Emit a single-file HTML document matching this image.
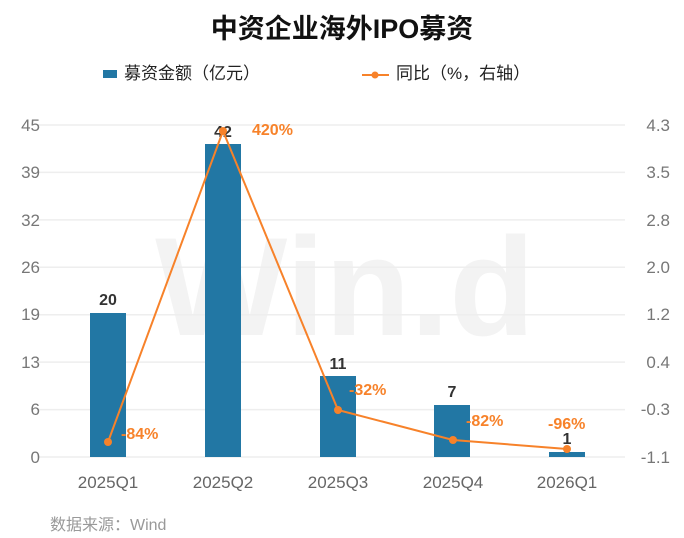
<!DOCTYPE html><html><head><style>body{margin:0;background:#fff}svg{display:block}text{font-family:"Liberation Sans","Noto Sans CJK SC",sans-serif}</style></head><body>
<svg width="684" height="538" xmlns="http://www.w3.org/2000/svg">
<text x="342" y="38" text-anchor="middle" font-size="27" font-weight="bold" fill="#111">中资企业海外IPO募资</text>
<rect x="103" y="70" width="14" height="8" fill="#2277a4"/>
<text x="124" y="79" font-size="17" fill="#222">募资金额（亿元）</text>
<line x1="362" y1="75" x2="389" y2="75" stroke="#f7822a" stroke-width="2"/><circle cx="375" cy="75" r="3.5" fill="#f7822a"/>
<text x="396" y="79" font-size="17" fill="#222">同比（%，右轴）</text>
<text x="345" y="335" text-anchor="middle" font-size="140" font-weight="bold" fill="#f3f3f3">Win.d</text>
<g stroke="#eeeeee" stroke-width="1.5">
<line x1="38" x2="625" y1="125" y2="125"/><line x1="38" x2="625" y1="172.4" y2="172.4"/><line x1="38" x2="625" y1="219.9" y2="219.9"/><line x1="38" x2="625" y1="267.3" y2="267.3"/><line x1="38" x2="625" y1="314.7" y2="314.7"/><line x1="38" x2="625" y1="362.1" y2="362.1"/><line x1="38" x2="625" y1="409.6" y2="409.6"/><line x1="38" x2="625" y1="457" y2="457"/></g>
<g font-size="17" fill="#777" text-anchor="end">
<text x="40" y="131">45</text><text x="40" y="178">39</text><text x="40" y="226">32</text><text x="40" y="273">26</text><text x="40" y="320">19</text><text x="40" y="368">13</text><text x="40" y="415">6</text><text x="40" y="463">0</text></g>
<g font-size="17" fill="#777" text-anchor="end">
<text x="670" y="131">4.3</text><text x="670" y="178">3.5</text><text x="670" y="226">2.8</text><text x="670" y="273">2.0</text><text x="670" y="320">1.2</text><text x="670" y="368">0.4</text><text x="670" y="415">-0.3</text><text x="670" y="463">-1.1</text></g>
<g fill="#2277a4">
<rect x="90" y="313" width="36" height="144"/><rect x="205" y="144" width="36" height="313"/><rect x="320" y="376" width="36" height="81"/><rect x="434" y="405" width="36" height="52"/><rect x="549" y="452" width="36" height="5"/></g>
<g font-size="16" font-weight="bold" fill="#333" text-anchor="middle">
<text x="108" y="305">20</text><text x="223" y="137">42</text><text x="338" y="369">11</text><text x="452" y="397">7</text><text x="567" y="444">1</text></g>
<polyline points="108,442 223,131 338,410 453,440 567,449" fill="none" stroke="#f7822a" stroke-width="2"/>
<g fill="#f7822a"><circle cx="108" cy="442" r="4"/><circle cx="223" cy="131" r="4"/><circle cx="338" cy="410" r="4"/><circle cx="453" cy="440" r="4"/><circle cx="567" cy="449" r="4"/></g>
<g font-size="16" font-weight="bold" fill="#f7822a">
<text x="121" y="439">-84%</text><text x="252" y="135">420%</text><text x="349" y="395">-32%</text><text x="466" y="426">-82%</text><text x="548" y="429">-96%</text></g>
<g font-size="17" fill="#666" text-anchor="middle">
<text x="108" y="488">2025Q1</text><text x="223" y="488">2025Q2</text><text x="338" y="488">2025Q3</text><text x="453" y="488">2025Q4</text><text x="567" y="488">2026Q1</text></g>
<text x="50" y="530" font-size="16" fill="#999">数据来源：Wind</text>
</svg></body></html>
